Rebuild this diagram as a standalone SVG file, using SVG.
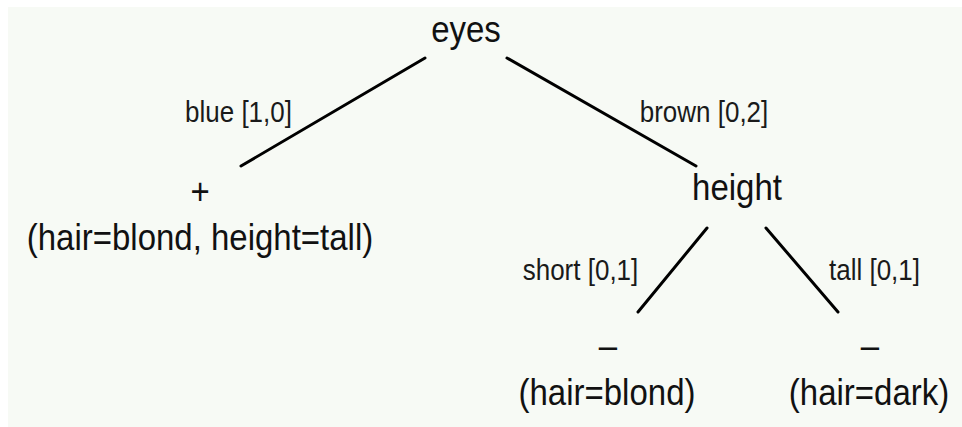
<svg xmlns="http://www.w3.org/2000/svg" width="962" height="427" viewBox="0 0 962 427">
  <style>
    .node { font-family: "Liberation Sans", Arial, sans-serif; font-size: 33px; fill: #111; text-anchor: middle; }
    .lbl { font-family: "Liberation Sans", Arial, sans-serif; font-size: 26px; fill: #1a1a1a; text-anchor: middle; }
    .edge { stroke: #000; stroke-width: 3; stroke-linecap: round; fill: none; }
  </style>
  <rect x="0" y="0" width="962" height="427" fill="#ffffff"/>
  <rect x="8" y="7" width="954" height="420" fill="#f7faf5"/>

  <g id="connectors">
    <line class="edge" x1="425" y1="58" x2="241" y2="166"/>
    <line class="edge" x1="507" y1="58" x2="696" y2="166"/>
    <line class="edge" x1="707" y1="228" x2="638" y2="312"/>
    <line class="edge" x1="766" y1="228" x2="838" y2="312"/>
    <text class="lbl" transform="translate(238.5,122) scale(1,1.12)">blue [1,0]</text>
    <text class="lbl" transform="translate(704,122) scale(1,1.12)">brown [0,2]</text>
    <text class="lbl" transform="translate(580.5,280) scale(1,1.12)">short [0,1]</text>
    <text class="lbl" transform="translate(874.5,280) scale(1,1.12)">tall [0,1]</text>
  </g>

  <g id="eyes">
    <text class="node" transform="translate(466,42) scale(1,1.12)">eyes</text>
  </g>
  <g id="positive">
    <text class="node" transform="translate(200,204) scale(1,1.12)">+</text>
    <text class="node" transform="translate(200,250) scale(1,1.12)">(hair=blond, height=tall)</text>
  </g>
  <g id="height">
    <text class="node" transform="translate(737,200) scale(1,1.12)">height</text>
  </g>
  <g id="short-negative">
    <text class="node" transform="translate(608,358) scale(1,1.12)">–</text>
    <text class="node" transform="translate(607,405) scale(1,1.12)">(hair=blond)</text>
  </g>
  <g id="tall-negative">
    <text class="node" transform="translate(870,358) scale(1,1.12)">–</text>
    <text class="node" transform="translate(869,405) scale(1,1.12)">(hair=dark)</text>
  </g>
</svg>
